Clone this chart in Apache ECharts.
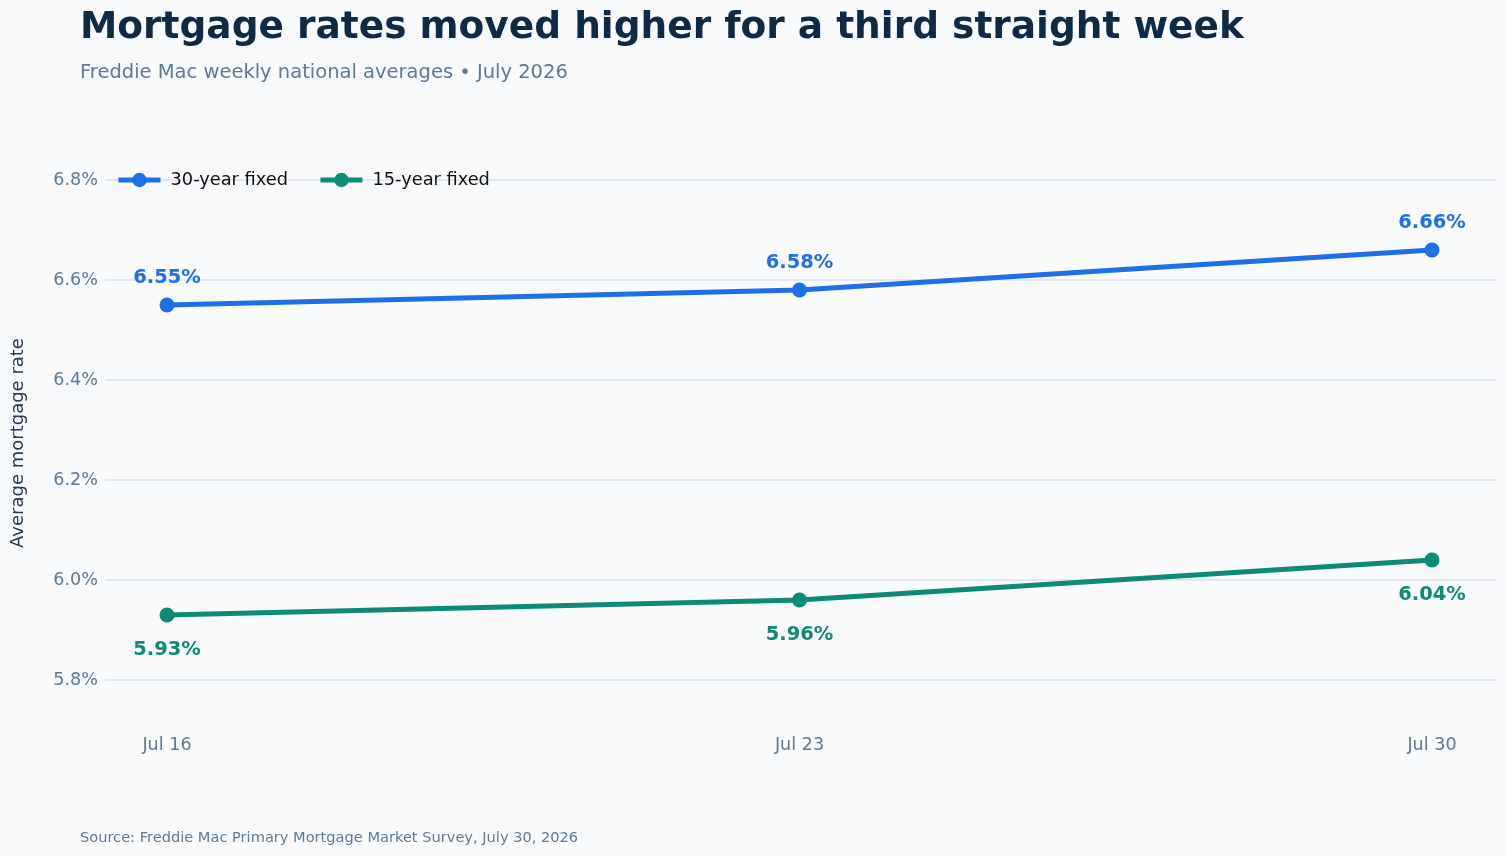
<!DOCTYPE html>
<html lang="en">
<head>
    <meta charset="UTF-8">
    <title>Mortgage rates</title>
    <script src="https://cdn.jsdelivr.net/npm/echarts/dist/echarts.min.js"></script>
    <style>
        html, body { margin: 0; padding: 0; background: #f8fafc; }
        #main { width: 1505px; height: 856px; }
    </style>
</head>
<body>
    <div id="main"></div>
    <script>
        // chart data
        const weeks = ['Jul 16', 'Jul 23', 'Jul 30'];
        const fixed30 = [6.55, 6.58, 6.66];
        const fixed15 = [5.93, 5.96, 6.04];
        const yMin = 5.8;
        const yMax = 6.8;
        const yStep = 0.2;

        const FONT = 'DejaVu Sans';
        const BLUE = '#1f6fe8';
        const GREEN = '#0e8a76';
        const TICK = '#5f7a95';

        var chart = echarts.init(document.getElementById('main'));

        // grid 0 only carries the gridlines and y labels (full width),
        // grid 1 holds the lines so the points sit inset from the gridline ends
        var option = {
            backgroundColor: '#f8fafc',
            textStyle: { fontFamily: FONT },
            title: {
                text: 'Mortgage rates moved higher for a third straight week',
                subtext: 'Freddie Mac weekly national averages \u2022 July 2026',
                left: 80,
                top: 9,
                padding: 0,
                itemGap: 16,
                textStyle: { fontFamily: FONT, fontSize: 37.5, fontWeight: 'bold', color: '#0f2a45' },
                subtextStyle: { fontFamily: FONT, fontSize: 19.5, color: '#5f7a95' }
            },
            legend: {
                left: 116,
                top: 171,
                padding: 0,
                itemWidth: 42,
                itemHeight: 18,
                itemGap: 30,
                lineStyle: { width: 5 },
                textStyle: { fontFamily: FONT, fontSize: 17.8, color: '#111', padding: [0, 0, 0, 5] },
                data: ['30-year fixed', '15-year fixed']
            },
            graphic: [
                {
                    type: 'text',
                    left: 80,
                    top: 831,
                    style: {
                        text: 'Source: Freddie Mac Primary Mortgage Market Survey, July 30, 2026',
                        font: '14.6px "DejaVu Sans"',
                        fill: '#5f7a95'
                    }
                },
                {
                    type: 'text',
                    x: 18,
                    y: 443,
                    rotation: Math.PI / 2,
                    style: {
                        text: 'Average mortgage rate',
                        font: '18px "DejaVu Sans"',
                        fill: '#2a3a4f',
                        align: 'center',
                        verticalAlign: 'middle'
                    }
                }
            ],
            grid: [
                { left: 105, right: 9, top: 180, bottom: 176 },
                { left: 167, right: 73, top: 180, bottom: 176 }
            ],
            xAxis: [
                { type: 'value', gridIndex: 0, show: false },
                {
                    type: 'category',
                    gridIndex: 1,
                    data: weeks,
                    boundaryGap: false,
                    axisLine: { show: false },
                    axisTick: { show: false },
                    axisLabel: { margin: 56, fontSize: 17.6, color: TICK, fontFamily: FONT }
                }
            ],
            yAxis: [
                {
                    type: 'value',
                    gridIndex: 0,
                    min: yMin,
                    max: yMax,
                    interval: yStep,
                    axisLine: { show: false },
                    axisTick: { show: false },
                    axisLabel: {
                        margin: 7,
                        fontSize: 17.6,
                        color: TICK,
                        fontFamily: FONT,
                        formatter: v => v.toFixed(1) + '%'
                    },
                    splitLine: { lineStyle: { color: '#e2e8f0', width: 2 } }
                },
                { type: 'value', gridIndex: 1, min: yMin, max: yMax, show: false }
            ],
            series: [
                {
                    name: '30-year fixed',
                    type: 'line',
                    xAxisIndex: 1,
                    yAxisIndex: 1,
                    data: fixed30,
                    color: BLUE,
                    symbol: 'circle',
                    symbolSize: 15,
                    lineStyle: { width: 5 },
                    label: {
                        show: true,
                        position: 'top',
                        distance: 10,
                        fontSize: 19.5,
                        fontWeight: 'bold',
                        color: BLUE,
                        fontFamily: FONT,
                        formatter: p => p.value.toFixed(2) + '%'
                    }
                },
                {
                    name: '15-year fixed',
                    type: 'line',
                    xAxisIndex: 1,
                    yAxisIndex: 1,
                    data: fixed15,
                    color: GREEN,
                    symbol: 'circle',
                    symbolSize: 15,
                    lineStyle: { width: 5 },
                    label: {
                        show: true,
                        position: 'bottom',
                        distance: 17,
                        fontSize: 19.5,
                        fontWeight: 'bold',
                        color: GREEN,
                        fontFamily: FONT,
                        formatter: p => p.value.toFixed(2) + '%'
                    }
                }
            ]
        };

        chart.setOption(option);
    </script>
</body>
</html>
